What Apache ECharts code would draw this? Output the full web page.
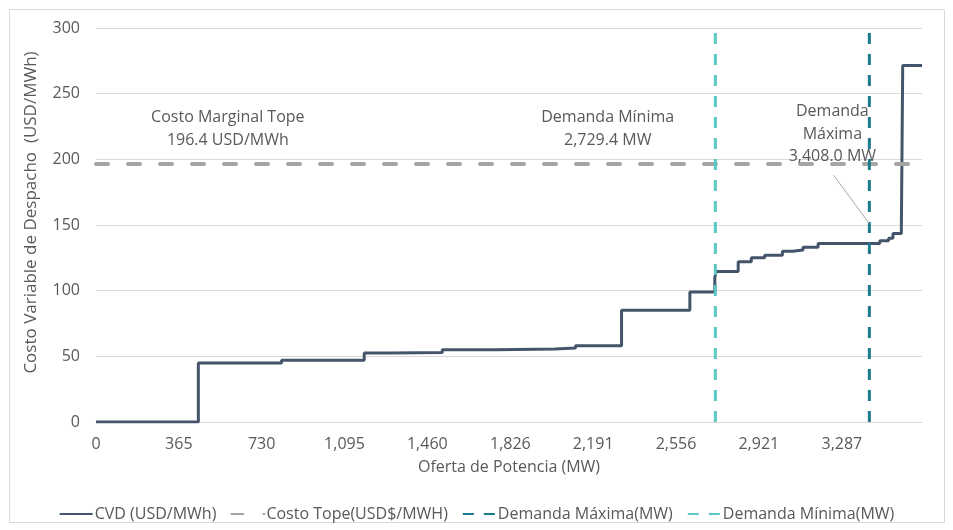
<!DOCTYPE html>
<html>
<head>
<meta charset="utf-8">
<script src="https://cdn.jsdelivr.net/npm/echarts@6/dist/echarts.min.js"></script>
<style>
  html, body { margin: 0; padding: 0; background: #fff; }
  #chart { width: 953px; height: 530px; }
</style>
</head>
<body>
<div id="chart"></div>
<script>
// curva de oferta (escalones): potencia acumulada y costo variable
const offerMW = [0, 451, 818, 1182, 1302, 1526, 1762, 2022, 2113, 2316, 2617, 2727, 2733, 2830, 2888, 2947, 3025, 3070, 3116, 3182, 3454, 3493, 3512, 3549, 3555, 3640]
const costCVD = [0, 45, 47, 52.5, 53, 55, 55.5, 56.3, 58, 85, 99, 110, 114.5, 122, 125, 127, 130, 131, 133, 136, 138, 140, 143.5, 146, 271.5, 271.5]

const costoTope = 196.4
const demandaMin = 2729.4
const demandaMax = 3408.0

const xTicks = [0, 365, 730, 1095, 1460, 1826, 2191, 2556, 2921, 3287]
const xMax = 3640
const yMax = 300

const textColor = '#595959'
const font = 'Open Sans'

const chart = echarts.init(document.getElementById('chart'))

const option = {
  animation: false,
  textStyle: { fontFamily: font, color: textColor },
  graphic: [
    {
      type: 'rect',
      shape: { x: 9.5, y: 9.5, width: 935, height: 513 },
      style: { fill: 'none', stroke: '#D9D9D9', lineWidth: 1 },
      silent: true
    }
  ],
  grid: { left: 96, right: 31, top: 28, bottom: 108 },
  legend: {
    bottom: 3,
    left: 'center',
    itemWidth: 33,
    itemHeight: 12,
    itemGap: 14,
    itemStyle: { opacity: 0 },
    textStyle: { fontSize: 16, color: textColor, fontFamily: font, padding: [0, 0, 0, -3] },
    data: ['CVD (USD/MWh)', 'Costo Tope(USD$/MWH)', 'Demanda Máxima(MW)', 'Demanda Mínima(MW)']
  },
  xAxis: {
    type: 'value',
    min: 0,
    max: xMax,
    name: 'Oferta de Potencia (MW)',
    nameLocation: 'middle',
    nameGap: 37,
    nameTextStyle: { fontSize: 16, color: textColor },
    axisLine: { lineStyle: { color: '#D9D9D9' } },
    axisTick: { show: false },
    splitLine: { show: false },
    axisLabel: {
      customValues: xTicks,
      fontSize: 16,
      color: textColor,
      margin: 14,
      formatter: v => Math.round(v).toLocaleString('en-US')
    }
  },
  yAxis: {
    type: 'value',
    min: 0,
    max: yMax,
    interval: 50,
    name: 'Costo Variable de Despacho  (USD/MWh)',
    nameLocation: 'middle',
    nameGap: 56,
    nameTextStyle: { fontSize: 17, color: textColor, padding: [0, 0, 0, 25] },
    axisLine: { show: false },
    axisTick: { show: false },
    splitLine: { lineStyle: { color: '#D9D9D9' } },
    axisLabel: { fontSize: 16, color: textColor, margin: 16 }
  },
  series: [
    {
      name: 'CVD (USD/MWh)',
      type: 'line',
      step: 'end',
      symbol: 'none',
      lineStyle: { color: '#44546A', width: 3 },
      itemStyle: { color: '#44546A' },
      data: offerMW.map((x, i) => [x, costCVD[i]]),
      z: 2
    },
    {
      name: 'Costo Tope(USD$/MWH)',
      type: 'line',
      symbol: 'none',
      lineStyle: { color: '#A5A5A5', width: 4, type: [12, 20], cap: 'round' },
      itemStyle: { color: '#A5A5A5' },
      data: [[0, costoTope], [xMax, costoTope]],
      markPoint: {
        symbol: 'circle',
        symbolSize: 0,
        label: {
          show: true,
          fontSize: 16,
          lineHeight: 23,
          color: textColor,
          formatter: p => p.name
        },
        data: [
          { name: 'Costo Marginal Tope\n196.4 USD/MWh', coord: [581, 223] },
          { name: 'Demanda Mínima\n2,729.4 MW', coord: [2255, 223] }
        ]
      },
      z: 3
    },
    {
      name: 'Demanda Máxima(MW)',
      type: 'line',
      symbol: 'none',
      lineStyle: { color: '#1B7B8C', width: 3, type: [11, 10] },
      itemStyle: { color: '#1B7B8C' },
      data: [[demandaMax, 0], [demandaMax, yMax]],
      markPoint: {
        symbol: 'circle',
        symbolSize: 0,
        label: {
          show: true,
          fontSize: 16,
          lineHeight: 22.5,
          color: textColor,
          formatter: p => p.name
        },
        data: [
          { name: 'Demanda\nMáxima\n3,408.0 MW', coord: [3245, 219] }
        ]
      },
      markLine: {
        silent: true,
        symbol: 'none',
        label: { show: false },
        lineStyle: { color: '#A6A6A6', width: 1, type: 'solid' },
        data: [[{ coord: [3250, 188] }, { coord: [demandaMax, 151] }]]
      },
      z: 3
    },
    {
      name: 'Demanda Mínima(MW)',
      type: 'line',
      symbol: 'none',
      lineStyle: { color: '#5BC8C3', width: 3, type: [11, 10] },
      itemStyle: { color: '#5BC8C3' },
      data: [[demandaMin, 0], [demandaMin, yMax]],
      z: 3
    }
  ]
}

chart.setOption(option)
</script>
</body>
</html>
